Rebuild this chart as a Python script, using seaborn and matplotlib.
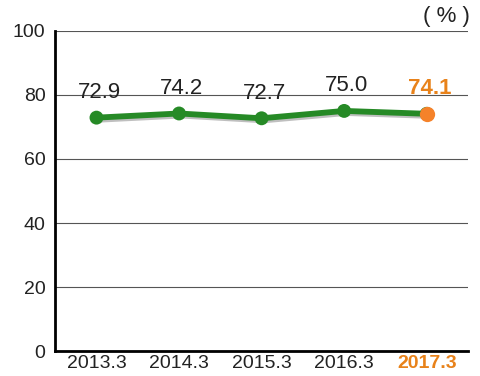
import numpy as np
import pandas as pd
import matplotlib.pyplot as plt
import matplotlib.patheffects as pe
import seaborn as sns

# Data
years = ["2013.3", "2014.3", "2015.3", "2016.3", "2017.3"]
ratio = [72.9, 74.2, 72.7, 75.0, 74.1]

df = pd.DataFrame({"year": years, "ratio": ratio})

sns.set_style("white")
plt.rcParams['font.family'] = ['Liberation Sans', 'DejaVu Sans']

green = "#268a26"
orange = "#f5822a"
orange_txt = "#e8821a"

fig = plt.figure(figsize=(4.8, 3.76), dpi=100)
ax = fig.add_axes([0.115, 0.066, 0.86, 0.852])

shadow = [pe.SimpleLineShadow(offset=(1.5, -1.5), alpha=0.25), pe.Normal()]
sns.lineplot(data=df, x="year", y="ratio", color=green, linewidth=4.2,
             marker="o", markersize=10, markeredgewidth=0, ax=ax,
             path_effects=shadow, sort=False)
# highlight latest point
ax.plot(df["year"].iloc[-1:], df["ratio"].iloc[-1:], "o", color=orange,
        markersize=11, markeredgewidth=0, zorder=5)

for i, (y, v) in enumerate(zip(years, ratio)):
    last = i == len(years) - 1
    ax.annotate(f"{v:.1f}", (i, v), xytext=(2, 18), textcoords="offset points",
                ha="center", va="center", fontsize=16,
                color=orange_txt if last else "#222222",
                fontweight="bold" if last else "normal")

ax.set_xlim(-0.5, 4.5)
ax.set_ylim(0, 100)
ax.set_yticks([0, 20, 40, 60, 80, 100])
ax.yaxis.grid(True, color="#555555", linewidth=0.8)
ax.set_axisbelow(True)
ax.set_xlabel("")
ax.set_ylabel("")
for s in ["top", "right"]:
    ax.spines[s].set_visible(False)
for s in ["left", "bottom"]:
    ax.spines[s].set_color("black")
    ax.spines[s].set_linewidth(2)
ax.tick_params(axis="y", length=0, labelsize=14, colors="#222222", pad=7)
ax.tick_params(axis="x", length=0, labelsize=14, colors="#222222", pad=3)
lbls = ax.get_xticklabels()
lbls[-1].set_color(orange_txt)
lbls[-1].set_fontweight("bold")

fig.text(0.93, 0.955, "( % )", ha="center", va="center", fontsize=16, color="#222222")

fig.savefig("out.png", dpi=100)
